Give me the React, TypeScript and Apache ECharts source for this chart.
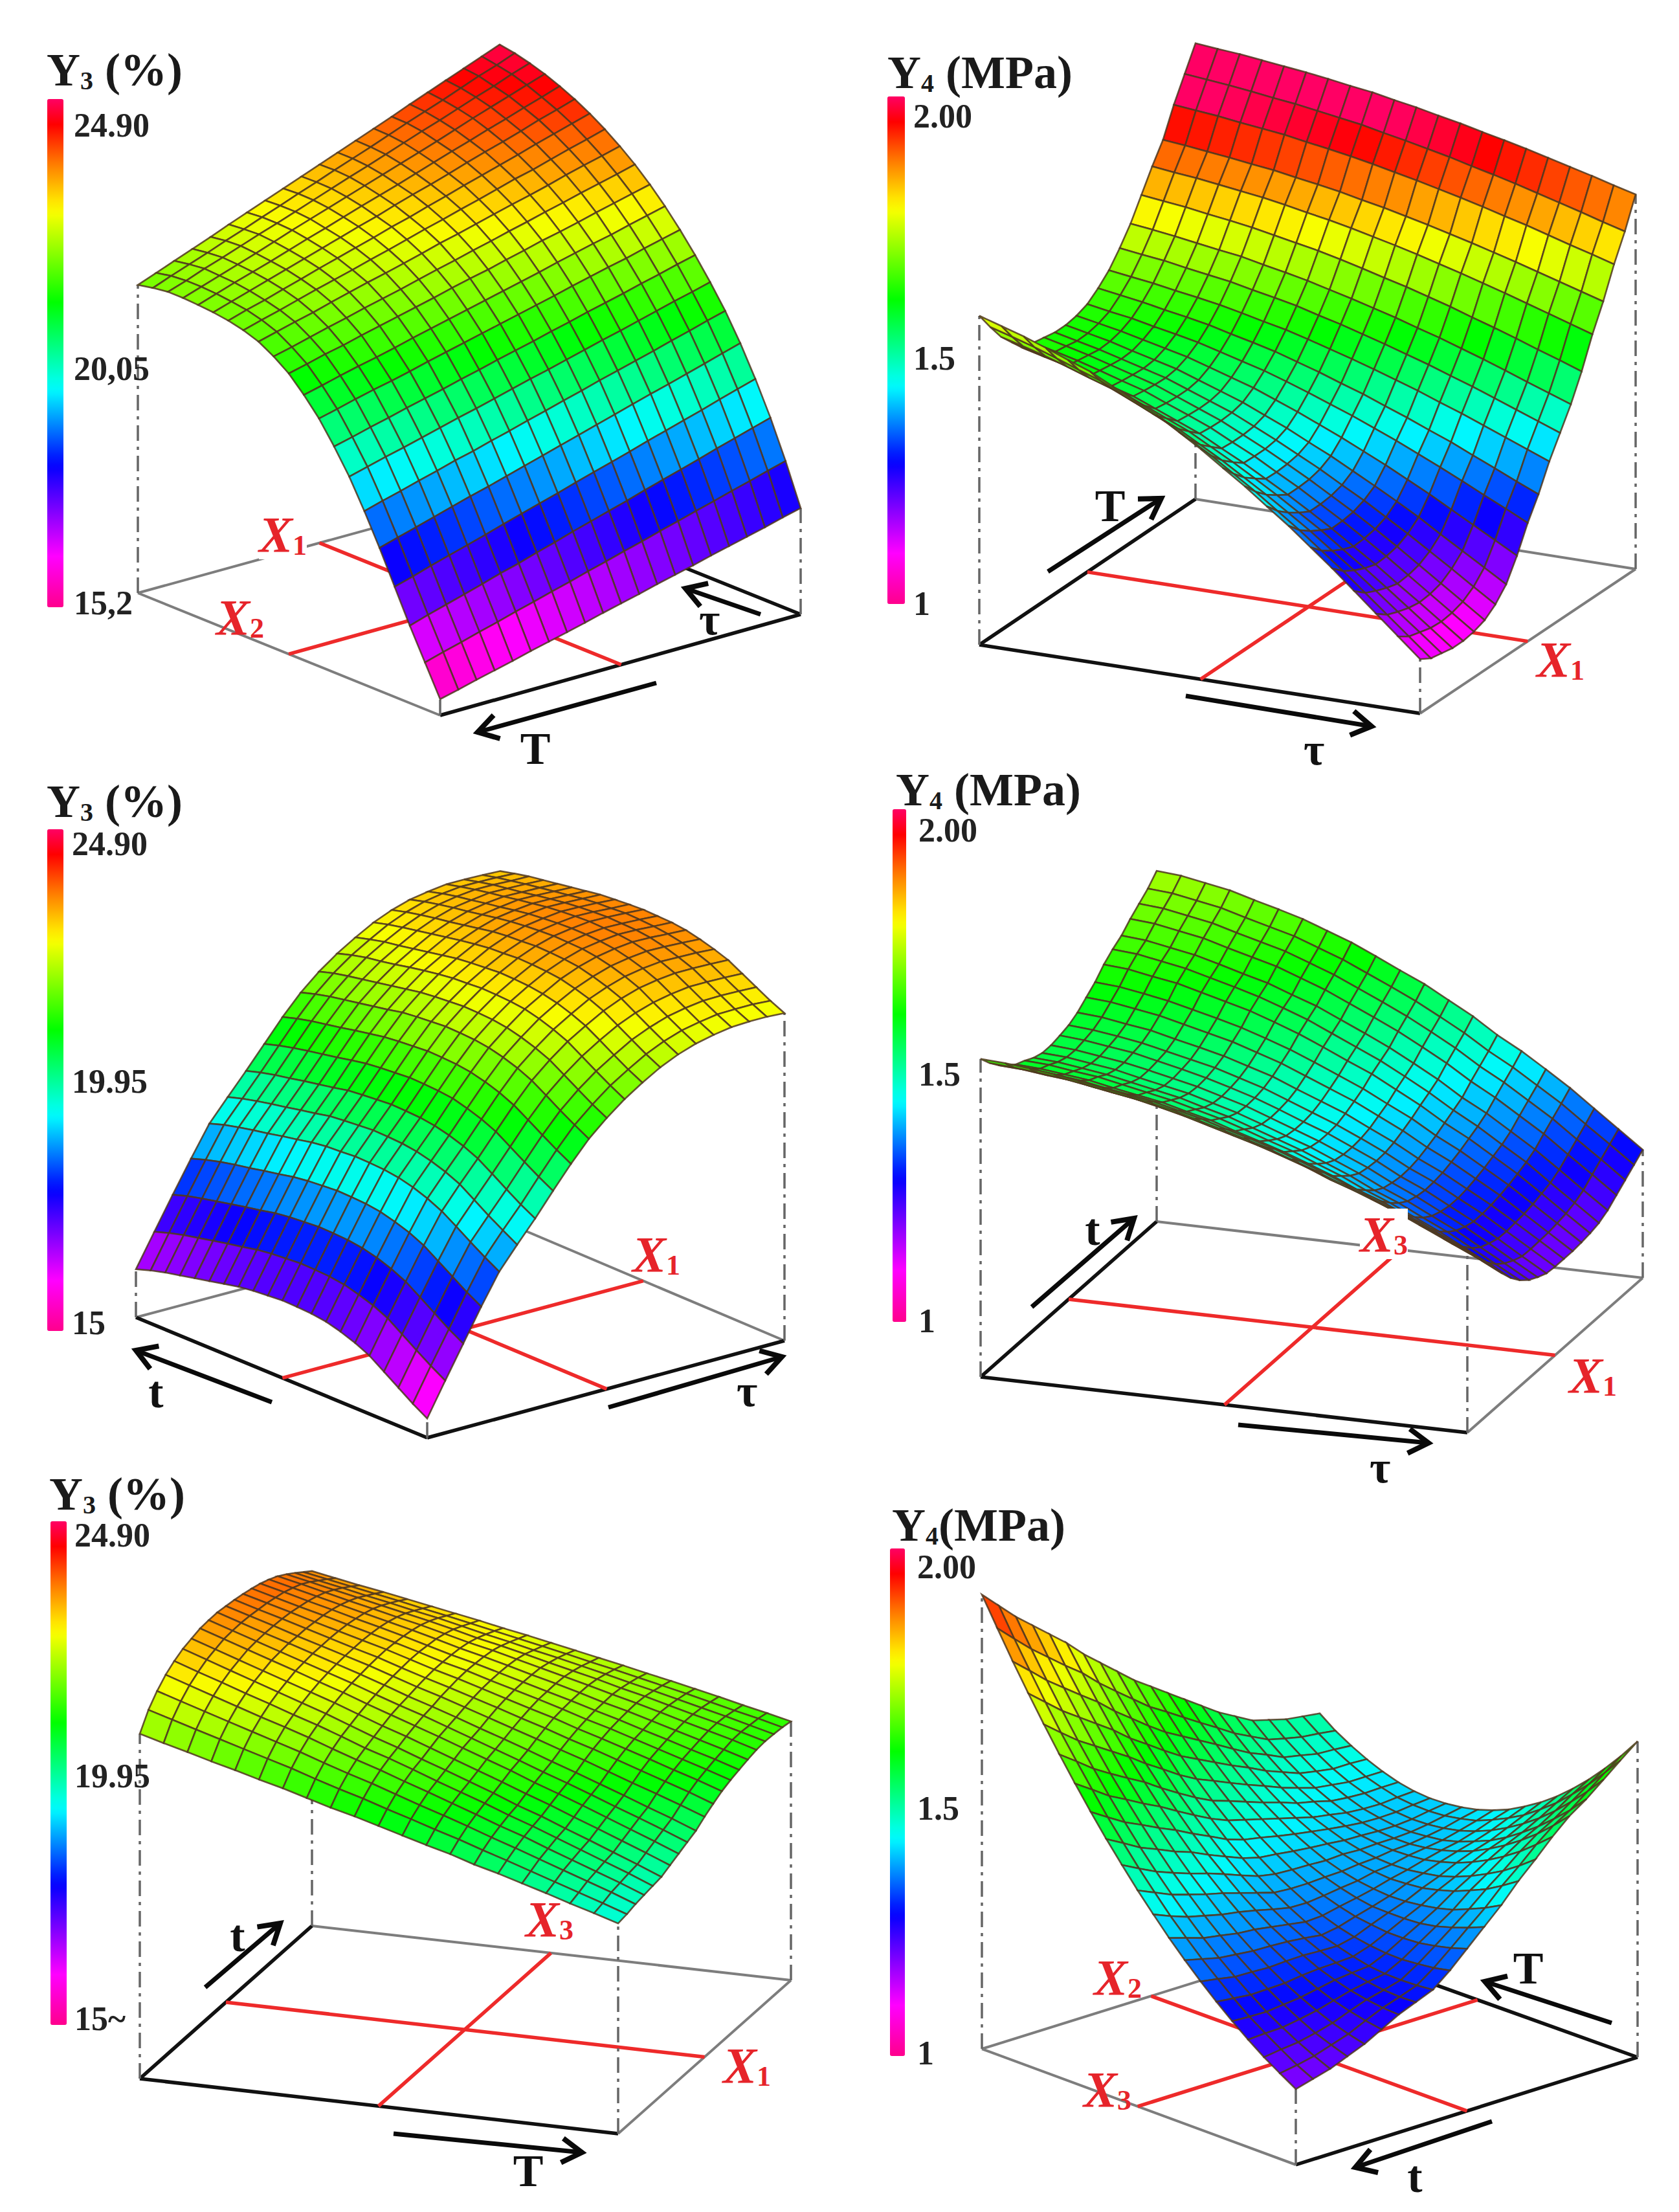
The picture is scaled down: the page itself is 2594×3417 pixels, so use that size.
import React, { useEffect, useRef } from "react";
import * as echarts from "echarts";

// Rows: position along the front-right floor edge. Columns: position along the front-left floor edge.
const y3TauT: number[][] = [
[15.40,16.10,16.80,17.55,18.30,19.00,19.65,20.20,20.70,21.10,21.45,21.70,21.90,22.02,22.10,22.15,22.18,22.20,22.20,22.15,22.08],
[15.50,16.22,16.93,17.67,18.42,19.12,19.76,20.30,20.80,21.20,21.55,21.80,22.01,22.14,22.23,22.28,22.32,22.34,22.34,22.31,22.24],
[15.61,16.33,17.05,17.80,18.54,19.23,19.87,20.41,20.91,21.31,21.66,21.91,22.12,22.25,22.34,22.41,22.46,22.48,22.50,22.46,22.40],
[15.71,16.45,17.17,17.92,18.66,19.35,19.97,20.51,21.01,21.41,21.75,22.02,22.22,22.37,22.47,22.54,22.59,22.62,22.64,22.61,22.56],
[15.81,16.56,17.29,18.04,18.78,19.46,20.08,20.62,21.10,21.50,21.86,22.12,22.34,22.49,22.59,22.67,22.72,22.76,22.79,22.77,22.72],
[15.92,16.68,17.42,18.16,18.90,19.58,20.19,20.72,21.20,21.60,21.96,22.23,22.45,22.60,22.72,22.80,22.86,22.91,22.94,22.92,22.89],
[16.02,16.79,17.53,18.29,19.01,19.68,20.30,20.82,21.31,21.71,22.06,22.33,22.56,22.71,22.84,22.93,23.00,23.06,23.08,23.08,23.05],
[16.12,16.91,17.66,18.41,19.13,19.80,20.40,20.93,21.41,21.81,22.16,22.43,22.66,22.83,22.96,23.06,23.13,23.20,23.23,23.23,23.21],
[16.22,17.02,17.78,18.53,19.25,19.91,20.51,21.03,21.51,21.91,22.26,22.54,22.77,22.94,23.08,23.19,23.27,23.34,23.38,23.39,23.37],
[16.33,17.14,17.91,18.65,19.37,20.03,20.62,21.14,21.61,22.01,22.37,22.65,22.88,23.06,23.21,23.31,23.41,23.48,23.53,23.54,23.53],
[16.43,17.25,18.03,18.78,19.49,20.14,20.73,21.24,21.71,22.11,22.47,22.75,23.00,23.18,23.32,23.45,23.54,23.62,23.68,23.70,23.69],
[16.53,17.37,18.15,18.90,19.61,20.26,20.83,21.34,21.81,22.21,22.56,22.86,23.10,23.29,23.45,23.58,23.67,23.76,23.82,23.85,23.85],
[16.64,17.48,18.27,19.02,19.73,20.37,20.94,21.45,21.91,22.31,22.67,22.96,23.21,23.41,23.57,23.70,23.81,23.90,23.97,24.00,24.01],
[16.74,17.60,18.40,19.14,19.85,20.49,21.05,21.55,22.01,22.41,22.77,23.07,23.32,23.52,23.70,23.83,23.95,24.04,24.12,24.16,24.17],
[16.84,17.71,18.52,19.27,19.97,20.60,21.16,21.66,22.12,22.52,22.88,23.17,23.43,23.64,23.82,23.97,24.09,24.18,24.27,24.32,24.33],
[16.95,17.83,18.64,19.39,20.09,20.71,21.26,21.76,22.22,22.62,22.97,23.28,23.53,23.76,23.94,24.10,24.22,24.33,24.41,24.47,24.50],
[17.05,17.94,18.76,19.51,20.20,20.82,21.37,21.86,22.32,22.72,23.07,23.38,23.64,23.86,24.06,24.22,24.36,24.48,24.56,24.62,24.66],
[17.15,18.06,18.89,19.63,20.32,20.94,21.48,21.97,22.41,22.81,23.18,23.49,23.76,23.98,24.19,24.35,24.49,24.62,24.71,24.78,24.82],
[17.25,18.17,19.01,19.76,20.44,21.05,21.59,22.07,22.52,22.92,23.28,23.59,23.87,24.10,24.31,24.49,24.63,24.76,24.85,24.94,24.98],
[17.36,18.29,19.13,19.88,20.56,21.17,21.69,22.18,22.62,23.02,23.38,23.69,23.97,24.21,24.43,24.61,24.76,24.90,25.01,25.08,25.14],
[17.46,18.40,19.25,20.00,20.68,21.28,21.80,22.28,22.72,23.12,23.48,23.80,24.08,24.33,24.55,24.74,24.90,25.04,25.15,25.24,25.30],
];

const y4TauT: number[][] = [
[1.100,1.145,1.190,1.235,1.280,1.322,1.364,1.402,1.441,1.476,1.512,1.544,1.576,1.602,1.627,1.653,1.672,1.692,1.711,1.727,1.743],
[1.085,1.128,1.171,1.214,1.257,1.297,1.337,1.374,1.411,1.445,1.479,1.509,1.540,1.565,1.589,1.614,1.632,1.651,1.669,1.685,1.700],
[1.080,1.121,1.161,1.202,1.242,1.280,1.318,1.353,1.387,1.419,1.451,1.480,1.509,1.532,1.556,1.579,1.596,1.614,1.631,1.646,1.660],
[1.075,1.114,1.153,1.192,1.230,1.266,1.303,1.336,1.369,1.400,1.430,1.458,1.486,1.508,1.530,1.552,1.569,1.586,1.602,1.616,1.630],
[1.075,1.112,1.149,1.185,1.222,1.256,1.290,1.322,1.353,1.382,1.411,1.437,1.464,1.485,1.506,1.527,1.542,1.558,1.574,1.587,1.600],
[1.080,1.116,1.152,1.188,1.224,1.258,1.291,1.322,1.353,1.381,1.410,1.435,1.461,1.482,1.502,1.523,1.538,1.554,1.569,1.582,1.595],
[1.090,1.125,1.160,1.195,1.230,1.263,1.295,1.325,1.355,1.383,1.410,1.435,1.460,1.480,1.500,1.520,1.535,1.550,1.565,1.578,1.590],
[1.110,1.143,1.177,1.210,1.243,1.274,1.305,1.333,1.362,1.388,1.414,1.438,1.462,1.481,1.500,1.519,1.533,1.547,1.561,1.573,1.585],
[1.140,1.171,1.202,1.233,1.265,1.294,1.322,1.349,1.376,1.400,1.425,1.447,1.469,1.487,1.505,1.523,1.536,1.549,1.563,1.574,1.585],
[1.190,1.218,1.246,1.274,1.302,1.328,1.354,1.378,1.402,1.424,1.446,1.466,1.486,1.502,1.518,1.534,1.546,1.558,1.570,1.580,1.590],
[1.250,1.275,1.299,1.324,1.348,1.371,1.394,1.415,1.436,1.455,1.474,1.492,1.509,1.523,1.537,1.551,1.562,1.572,1.583,1.591,1.600],
[1.300,1.322,1.345,1.367,1.390,1.410,1.431,1.450,1.470,1.487,1.505,1.521,1.537,1.550,1.562,1.575,1.585,1.594,1.604,1.612,1.620],
[1.360,1.380,1.400,1.420,1.440,1.458,1.477,1.494,1.511,1.527,1.542,1.557,1.571,1.582,1.594,1.605,1.614,1.622,1.631,1.638,1.645],
[1.410,1.429,1.448,1.467,1.486,1.503,1.521,1.537,1.553,1.568,1.583,1.596,1.610,1.621,1.631,1.642,1.650,1.658,1.667,1.673,1.680],
[1.460,1.478,1.496,1.515,1.533,1.550,1.567,1.582,1.598,1.612,1.626,1.639,1.652,1.663,1.673,1.684,1.691,1.699,1.707,1.714,1.720],
[1.520,1.538,1.555,1.573,1.590,1.606,1.623,1.638,1.653,1.666,1.680,1.693,1.705,1.715,1.725,1.735,1.743,1.750,1.758,1.764,1.770],
[1.590,1.606,1.622,1.638,1.654,1.669,1.684,1.698,1.712,1.725,1.737,1.749,1.760,1.769,1.779,1.788,1.795,1.802,1.809,1.814,1.820],
[1.650,1.665,1.680,1.695,1.710,1.724,1.738,1.751,1.764,1.776,1.788,1.798,1.809,1.818,1.826,1.835,1.841,1.848,1.854,1.860,1.865],
[1.720,1.735,1.749,1.764,1.779,1.792,1.806,1.819,1.831,1.843,1.854,1.865,1.875,1.884,1.892,1.901,1.907,1.913,1.920,1.925,1.930],
[1.780,1.794,1.809,1.823,1.837,1.851,1.864,1.876,1.889,1.900,1.911,1.921,1.932,1.940,1.948,1.956,1.962,1.969,1.975,1.980,1.985],
[1.850,1.863,1.877,1.890,1.903,1.916,1.928,1.939,1.951,1.961,1.972,1.981,1.991,1.998,2.006,2.013,2.019,2.025,2.031,2.035,2.040],
];

const y3TauTime: number[][] = [
[15.58,15.80,16.05,16.30,16.55,16.72,16.85,16.95,17.00,17.02,17.03,17.00,16.97,16.92,16.84,16.76,16.68,16.60,16.52,16.42,16.30],
[16.40,16.62,16.86,17.11,17.36,17.53,17.65,17.75,17.80,17.82,17.83,17.80,17.77,17.72,17.64,17.57,17.49,17.41,17.33,17.23,17.11],
[17.20,17.41,17.66,17.91,18.15,18.32,18.45,18.54,18.59,18.61,18.62,18.59,18.56,18.51,18.43,18.36,18.28,18.20,18.12,18.03,17.91],
[18.00,18.21,18.45,18.69,18.93,19.10,19.22,19.32,19.37,19.39,19.40,19.37,19.34,19.29,19.21,19.14,19.06,18.99,18.91,18.81,18.69],
[18.75,18.96,19.19,19.43,19.66,19.83,19.96,20.05,20.10,20.12,20.13,20.10,20.08,20.03,19.95,19.88,19.80,19.73,19.65,19.56,19.44],
[19.30,19.51,19.73,19.97,20.21,20.37,20.49,20.58,20.63,20.65,20.66,20.63,20.60,20.56,20.48,20.41,20.33,20.26,20.18,20.09,19.98],
[19.83,20.03,20.26,20.50,20.73,20.89,21.01,21.10,21.15,21.17,21.18,21.15,21.12,21.08,21.00,20.93,20.86,20.78,20.71,20.62,20.51],
[20.40,20.60,20.82,21.05,21.28,21.44,21.56,21.66,21.70,21.72,21.73,21.70,21.67,21.63,21.56,21.48,21.41,21.34,21.26,21.17,21.06],
[20.95,21.15,21.37,21.60,21.82,21.98,22.10,22.19,22.24,22.26,22.27,22.24,22.21,22.17,22.10,22.03,21.95,21.88,21.81,21.72,21.61],
[21.45,21.65,21.86,22.09,22.31,22.47,22.59,22.68,22.73,22.75,22.76,22.73,22.70,22.66,22.58,22.51,22.44,22.37,22.30,22.21,22.10],
[21.85,22.04,22.26,22.48,22.70,22.85,22.97,23.06,23.11,23.13,23.14,23.11,23.08,23.04,22.97,22.90,22.83,22.76,22.69,22.61,22.50],
[22.20,22.39,22.60,22.82,23.04,23.19,23.31,23.40,23.44,23.46,23.47,23.44,23.42,23.37,23.31,23.24,23.16,23.09,23.03,22.94,22.83],
[22.49,22.67,22.88,23.10,23.31,23.46,23.58,23.66,23.71,23.73,23.74,23.71,23.68,23.64,23.57,23.50,23.43,23.36,23.30,23.21,23.11],
[22.75,22.93,23.14,23.35,23.56,23.71,23.82,23.91,23.95,23.97,23.98,23.95,23.93,23.88,23.82,23.75,23.68,23.61,23.54,23.46,23.36],
[22.95,23.13,23.33,23.54,23.75,23.89,24.00,24.09,24.13,24.15,24.16,24.13,24.11,24.07,24.00,23.93,23.86,23.80,23.73,23.65,23.55],
[23.10,23.28,23.48,23.68,23.89,24.03,24.14,24.22,24.27,24.28,24.29,24.27,24.24,24.20,24.14,24.07,24.00,23.94,23.87,23.79,23.69],
[23.20,23.37,23.57,23.77,23.97,24.11,24.22,24.30,24.34,24.36,24.36,24.34,24.31,24.27,24.21,24.14,24.08,24.01,23.95,23.87,23.77],
[23.27,23.44,23.63,23.83,24.02,24.16,24.27,24.35,24.39,24.40,24.41,24.39,24.36,24.32,24.26,24.20,24.13,24.07,24.00,23.92,23.83],
[23.29,23.45,23.64,23.83,24.02,24.15,24.26,24.34,24.38,24.39,24.40,24.38,24.35,24.31,24.25,24.19,24.12,24.06,24.00,23.92,23.83],
[23.29,23.45,23.63,23.82,24.01,24.14,24.24,24.31,24.35,24.37,24.38,24.35,24.33,24.29,24.23,24.17,24.11,24.05,23.98,23.91,23.82],
[23.26,23.42,23.61,23.80,23.99,24.11,24.21,24.29,24.33,24.34,24.35,24.33,24.30,24.27,24.21,24.15,24.09,24.03,23.97,23.89,23.80],
];

const y4TauTime: number[][] = [
[1.376,1.398,1.420,1.443,1.462,1.482,1.498,1.518,1.534,1.551,1.565,1.579,1.593,1.604,1.615,1.623,1.632,1.640,1.646,1.651,1.654],
[1.350,1.372,1.395,1.417,1.437,1.456,1.473,1.493,1.510,1.526,1.540,1.554,1.568,1.580,1.591,1.599,1.608,1.616,1.622,1.627,1.630],
[1.325,1.348,1.371,1.393,1.413,1.433,1.450,1.470,1.487,1.505,1.519,1.533,1.547,1.559,1.570,1.579,1.587,1.596,1.601,1.607,1.610],
[1.300,1.324,1.347,1.371,1.391,1.412,1.430,1.450,1.468,1.486,1.501,1.515,1.530,1.542,1.554,1.563,1.571,1.580,1.586,1.592,1.595],
[1.270,1.295,1.320,1.344,1.366,1.388,1.406,1.428,1.447,1.465,1.481,1.496,1.512,1.524,1.537,1.546,1.555,1.565,1.571,1.577,1.580],
[1.245,1.271,1.297,1.323,1.346,1.369,1.389,1.412,1.431,1.451,1.467,1.484,1.500,1.513,1.526,1.536,1.546,1.556,1.562,1.569,1.572],
[1.225,1.252,1.279,1.306,1.329,1.353,1.373,1.397,1.417,1.437,1.454,1.471,1.488,1.501,1.515,1.525,1.535,1.545,1.552,1.559,1.562],
[1.210,1.238,1.265,1.293,1.317,1.341,1.362,1.386,1.407,1.428,1.445,1.463,1.480,1.494,1.508,1.518,1.528,1.539,1.546,1.553,1.556],
[1.200,1.228,1.257,1.285,1.310,1.335,1.357,1.382,1.403,1.424,1.442,1.460,1.478,1.492,1.506,1.517,1.528,1.538,1.545,1.552,1.556],
[1.192,1.221,1.251,1.280,1.306,1.332,1.354,1.380,1.402,1.424,1.442,1.461,1.479,1.494,1.508,1.520,1.531,1.542,1.549,1.556,1.560],
[1.190,1.220,1.250,1.280,1.306,1.333,1.355,1.381,1.404,1.426,1.445,1.464,1.483,1.498,1.513,1.524,1.535,1.546,1.554,1.561,1.565],
[1.190,1.221,1.252,1.282,1.309,1.336,1.359,1.386,1.409,1.433,1.452,1.471,1.491,1.506,1.521,1.533,1.544,1.556,1.563,1.571,1.575],
[1.190,1.222,1.254,1.286,1.314,1.342,1.366,1.394,1.418,1.442,1.462,1.482,1.502,1.518,1.534,1.546,1.558,1.570,1.578,1.586,1.590],
[1.192,1.225,1.258,1.291,1.320,1.349,1.374,1.403,1.427,1.452,1.473,1.494,1.514,1.531,1.547,1.560,1.572,1.584,1.593,1.601,1.605],
[1.195,1.229,1.264,1.298,1.328,1.358,1.384,1.414,1.440,1.466,1.487,1.509,1.530,1.548,1.565,1.578,1.591,1.604,1.612,1.621,1.625],
[1.200,1.235,1.270,1.306,1.336,1.367,1.394,1.424,1.451,1.477,1.499,1.521,1.543,1.561,1.578,1.592,1.605,1.618,1.627,1.636,1.640],
[1.210,1.245,1.281,1.316,1.347,1.378,1.404,1.435,1.462,1.488,1.511,1.533,1.555,1.572,1.590,1.603,1.617,1.630,1.639,1.648,1.652],
[1.225,1.261,1.296,1.332,1.363,1.394,1.421,1.452,1.479,1.505,1.528,1.550,1.572,1.590,1.608,1.621,1.634,1.648,1.657,1.666,1.670],
[1.240,1.276,1.311,1.347,1.378,1.409,1.436,1.467,1.494,1.520,1.543,1.565,1.587,1.605,1.623,1.636,1.649,1.663,1.672,1.681,1.685],
[1.255,1.291,1.326,1.362,1.393,1.424,1.451,1.482,1.509,1.535,1.558,1.580,1.602,1.620,1.638,1.651,1.664,1.678,1.687,1.696,1.700],
[1.270,1.306,1.342,1.378,1.410,1.441,1.468,1.500,1.527,1.554,1.576,1.599,1.621,1.639,1.657,1.671,1.684,1.698,1.707,1.716,1.720],
];

const y3TTime: number[][] = [
[19.64,19.79,19.93,20.08,20.22,20.36,20.48,20.63,20.75,20.88,21.01,21.14,21.25,21.38,21.51,21.62,21.74,21.85,21.97,22.08,22.20],
[19.70,19.87,20.03,20.19,20.35,20.51,20.66,20.82,20.96,21.11,21.25,21.40,21.53,21.67,21.82,21.95,22.08,22.21,22.34,22.47,22.60],
[19.78,19.97,20.14,20.31,20.48,20.65,20.81,20.98,21.14,21.29,21.45,21.61,21.75,21.90,22.06,22.20,22.34,22.48,22.62,22.76,22.90],
[19.84,20.04,20.22,20.40,20.58,20.77,20.93,21.11,21.28,21.45,21.61,21.78,21.93,22.09,22.26,22.41,22.55,22.70,22.85,23.00,23.15],
[19.90,20.11,20.30,20.49,20.68,20.87,21.04,21.23,21.40,21.57,21.75,21.92,22.07,22.25,22.42,22.57,22.73,22.88,23.04,23.19,23.35],
[19.96,20.17,20.37,20.57,20.76,20.96,21.13,21.33,21.51,21.69,21.86,22.04,22.20,22.38,22.56,22.72,22.88,23.04,23.20,23.36,23.52],
[20.08,20.29,20.49,20.69,20.88,21.08,21.26,21.45,21.63,21.81,21.99,22.17,22.33,22.51,22.69,22.85,23.01,23.17,23.33,23.49,23.65],
[20.20,20.41,20.61,20.81,21.01,21.20,21.38,21.58,21.76,21.94,22.12,22.29,22.46,22.63,22.81,22.97,23.14,23.30,23.46,23.62,23.78],
[20.32,20.53,20.73,20.92,21.12,21.31,21.49,21.68,21.86,22.04,22.22,22.40,22.56,22.73,22.91,23.07,23.23,23.39,23.55,23.71,23.87],
[20.44,20.65,20.84,21.04,21.23,21.42,21.60,21.79,21.97,22.14,22.32,22.49,22.65,22.83,23.00,23.16,23.32,23.48,23.63,23.79,23.95],
[20.62,20.82,21.01,21.19,21.38,21.57,21.74,21.92,22.09,22.26,22.43,22.60,22.75,22.92,23.09,23.24,23.39,23.54,23.70,23.85,24.00],
[20.78,20.98,21.16,21.34,21.52,21.70,21.86,22.04,22.20,22.37,22.53,22.69,22.84,23.00,23.17,23.31,23.46,23.61,23.76,23.90,24.05],
[20.93,21.12,21.29,21.47,21.64,21.81,21.97,22.15,22.30,22.46,22.62,22.78,22.92,23.08,23.24,23.38,23.52,23.66,23.81,23.95,24.09],
[21.05,21.23,21.40,21.57,21.74,21.91,22.06,22.23,22.39,22.54,22.69,22.85,22.98,23.14,23.29,23.43,23.57,23.71,23.84,23.98,24.12],
[21.15,21.33,21.49,21.66,21.82,21.99,22.14,22.30,22.45,22.60,22.75,22.90,23.03,23.18,23.33,23.47,23.60,23.74,23.87,24.01,24.14],
[21.25,21.42,21.58,21.74,21.90,22.06,22.20,22.36,22.51,22.65,22.80,22.94,23.07,23.22,23.36,23.49,23.62,23.75,23.88,24.01,24.14],
[21.34,21.51,21.66,21.81,21.97,22.12,22.26,22.41,22.55,22.69,22.83,22.97,23.09,23.23,23.37,23.49,23.62,23.74,23.87,24.00,24.12],
[21.40,21.56,21.71,21.85,22.00,22.15,22.28,22.43,22.56,22.69,22.83,22.96,23.08,23.22,23.35,23.47,23.59,23.71,23.83,23.95,24.07],
[21.43,21.58,21.73,21.87,22.01,22.15,22.28,22.42,22.55,22.68,22.80,22.93,23.05,23.18,23.31,23.42,23.54,23.65,23.77,23.88,24.00],
[21.45,21.60,21.73,21.87,22.01,22.14,22.27,22.40,22.52,22.65,22.77,22.89,23.01,23.13,23.25,23.36,23.48,23.59,23.70,23.81,23.92],
[21.45,21.59,21.72,21.86,21.99,22.12,22.24,22.37,22.49,22.61,22.73,22.85,22.96,23.08,23.19,23.30,23.41,23.52,23.62,23.73,23.84],
];

const y4TTime: number[][] = [
[1.190,1.211,1.233,1.258,1.285,1.314,1.345,1.378,1.413,1.451,1.490,1.532,1.575,1.621,1.669,1.719,1.771,1.825,1.881,1.940,2.000],
[1.200,1.217,1.238,1.260,1.283,1.310,1.339,1.369,1.402,1.436,1.474,1.513,1.555,1.598,1.645,1.693,1.742,1.795,1.850,1.906,1.965],
[1.210,1.225,1.242,1.261,1.282,1.306,1.332,1.360,1.390,1.423,1.458,1.495,1.534,1.576,1.620,1.666,1.714,1.765,1.818,1.873,1.930],
[1.225,1.237,1.250,1.267,1.286,1.307,1.331,1.356,1.384,1.414,1.447,1.481,1.519,1.559,1.601,1.644,1.691,1.740,1.791,1.844,1.900],
[1.240,1.249,1.260,1.274,1.290,1.308,1.329,1.352,1.377,1.405,1.436,1.468,1.503,1.541,1.581,1.623,1.668,1.715,1.764,1.815,1.870],
[1.260,1.266,1.274,1.284,1.297,1.313,1.331,1.351,1.374,1.399,1.427,1.457,1.490,1.525,1.563,1.603,1.645,1.690,1.738,1.788,1.840],
[1.280,1.282,1.287,1.294,1.304,1.316,1.332,1.349,1.368,1.391,1.416,1.444,1.473,1.506,1.542,1.579,1.619,1.661,1.707,1.755,1.805],
[1.295,1.294,1.296,1.301,1.308,1.317,1.330,1.345,1.362,1.382,1.405,1.430,1.458,1.489,1.522,1.557,1.596,1.637,1.680,1.726,1.775],
[1.310,1.307,1.306,1.307,1.311,1.319,1.329,1.340,1.356,1.374,1.394,1.417,1.443,1.471,1.503,1.536,1.572,1.612,1.653,1.698,1.745],
[1.340,1.333,1.329,1.326,1.327,1.331,1.337,1.346,1.358,1.373,1.391,1.410,1.433,1.459,1.488,1.518,1.552,1.589,1.628,1.670,1.715],
[1.375,1.364,1.356,1.350,1.348,1.348,1.352,1.357,1.366,1.377,1.391,1.408,1.429,1.452,1.478,1.506,1.537,1.571,1.608,1.648,1.690],
[1.410,1.396,1.384,1.374,1.368,1.366,1.366,1.367,1.373,1.382,1.393,1.407,1.424,1.444,1.468,1.493,1.521,1.553,1.588,1.625,1.665],
[1.445,1.427,1.412,1.398,1.389,1.383,1.379,1.378,1.381,1.386,1.394,1.405,1.420,1.437,1.458,1.480,1.506,1.535,1.568,1.602,1.640],
[1.485,1.463,1.443,1.428,1.414,1.404,1.396,1.393,1.391,1.394,1.398,1.407,1.417,1.431,1.448,1.469,1.492,1.519,1.547,1.580,1.615],
[1.520,1.494,1.471,1.452,1.435,1.421,1.410,1.404,1.399,1.398,1.400,1.405,1.413,1.425,1.438,1.456,1.477,1.501,1.527,1.557,1.590],
[1.557,1.528,1.501,1.478,1.458,1.441,1.427,1.417,1.409,1.406,1.405,1.407,1.412,1.420,1.432,1.448,1.465,1.487,1.512,1.539,1.570],
[1.590,1.557,1.527,1.501,1.478,1.458,1.441,1.428,1.418,1.411,1.407,1.407,1.410,1.416,1.425,1.438,1.454,1.473,1.495,1.521,1.550],
[1.615,1.579,1.548,1.519,1.494,1.471,1.452,1.438,1.425,1.416,1.412,1.409,1.410,1.415,1.422,1.434,1.449,1.466,1.488,1.512,1.540],
[1.645,1.607,1.573,1.541,1.513,1.489,1.468,1.450,1.436,1.425,1.418,1.414,1.413,1.416,1.421,1.432,1.444,1.460,1.480,1.504,1.530],
[1.675,1.635,1.598,1.565,1.534,1.508,1.484,1.465,1.449,1.435,1.427,1.421,1.419,1.420,1.424,1.433,1.444,1.460,1.478,1.500,1.525],
[1.704,1.661,1.622,1.586,1.554,1.525,1.500,1.479,1.460,1.446,1.435,1.428,1.424,1.423,1.426,1.433,1.444,1.458,1.475,1.495,1.520],
];

const y3Ticks = [["24.90", "20,05", "15,2"], ["24.90", "19.95", "15"], ["24.90", "19.95", "15~"]];
const y4Ticks = ["2.00", "1.5", "1"];

type Pt = [number, number];
const layout = [
  { table: y3TauT, title: "{y|Y}{s|3}{y| (%)}", tx: 72, ty: 108, min: 15.2, max: 25.4, z0: 15.03, k: [67.5, 67.5, 67.5, 67.5],
    F: [680, 1105] as Pt, R: [1237, 949] as Pt, B: [772, 762] as Pt, L: [213, 916] as Pt, black: ["FR", "RB"], gray: ["FL", "LB"],
    bar: [73, 153, 25, 785], ticks: y3Ticks[0], tickX: 114, tickY: [193, 569, 931],
    arrows: [[1014, 1055, 738, 1131], [1175, 949, 1059, 909]], names: [["T", 827, 1156], ["τ", 1096, 956]],
    xs: [["1", 437, 825, true], ["2", 371, 953, false]] },
  { table: y4TauT, title: "{y|Y}{s|4}{y| (MPa)}", tx: 1371, ty: 112, min: 1, max: 1.95, z0: 0.973, k: [660, 660, 660, 660],
    F: [2194, 1102] as Pt, R: [2527, 879] as Pt, B: [1847, 771] as Pt, L: [1513, 996] as Pt, black: ["LB", "FL"], gray: ["FR", "RB"],
    bar: [1371, 149, 27, 784], ticks: y4Ticks, tickX: 1411, tickY: [179, 553, 932],
    arrows: [[1619, 883, 1794, 770], [1832, 1075, 2119, 1122]], names: [["T", 1715, 781], ["τ", 2030, 1157]],
    xs: [["1", 2411, 1018, false]] },
  { table: y3TauTime, title: "{y|Y}{s|3}{y| (%)}", tx: 72, ty: 1238, min: 15, max: 25.8, z0: 15.1, k: [62, 62, 62, 62],
    F: [660, 2221] as Pt, R: [1212, 2071] as Pt, B: [773, 1885] as Pt, L: [210, 2035] as Pt, black: ["FL", "FR"], gray: ["LB", "RB"],
    bar: [73, 1281, 25, 775], ticks: y3Ticks[1], tickX: 111, tickY: [1303, 1670, 2043],
    arrows: [[420, 2166, 210, 2086], [940, 2174, 1208, 2096]], names: [["t", 241, 2150], ["τ", 1154, 2148]],
    xs: [["1", 1014, 1937, false]] },
  { table: y4TauTime, title: "{y|Y}{s|4}{y| (MPa)}", tx: 1384, ty: 1220, min: 1, max: 2, z0: 1.011, k: [764, 764, 764, 764],
    F: [2267, 2213] as Pt, R: [2538, 1974] as Pt, B: [1787, 1887] as Pt, L: [1515, 2127] as Pt, black: ["LB", "FL"], gray: ["FR", "RB"],
    bar: [1379, 1250, 21, 792], ticks: y4Ticks, tickX: 1419, tickY: [1282, 1659, 2040],
    arrows: [[1594, 2019, 1752, 1882], [1913, 2201, 2207, 2229]], names: [["t", 1688, 1899], ["τ", 2132, 2266]],
    xs: [["1", 2461, 2124, false], ["3", 2138, 1906, true]] },
  { table: y3TTime, title: "{y|Y}{s|3}{y| (%)}", tx: 76, ty: 2308, min: 15, max: 25.3, z0: 15, k: [70, 62, 62, 74],
    F: [955, 3296] as Pt, R: [1222, 3059] as Pt, B: [482, 2975] as Pt, L: [216, 3211] as Pt, black: ["LB", "FL"], gray: ["FR", "RB"],
    bar: [78, 2350, 25, 778], ticks: y3Ticks[2], tickX: 115, tickY: [2371, 2743, 3118],
    arrows: [[317, 3070, 433, 2971], [608, 3296, 899, 3325]], names: [["t", 367, 2990], ["T", 816, 3353]],
    xs: [["1", 1154, 3190, false], ["3", 849, 2964, false]] },
  { table: y4TTime, title: "{y|Y}{s|4}{y|(MPa)}", tx: 1378, ty: 2356, min: 1, max: 2.05, z0: 1.028, k: [722, 722, 722, 722],
    F: [2002, 3344] as Pt, R: [2530, 3178] as Pt, B: [2039, 3002] as Pt, L: [1517, 3165] as Pt, black: ["FR", "RB"], gray: ["LB", "FL"],
    bar: [1375, 2392, 23, 784], ticks: y4Ticks, tickX: 1417, tickY: [2420, 2793, 3171],
    arrows: [[2490, 3125, 2294, 3061], [2305, 3277, 2094, 3348]], names: [["T", 2361, 3040], ["t", 2186, 3362]],
    xs: [["2", 1727, 3054, false], ["3", 1711, 3227, false]] },
];

const SERIF = '"Liberation Serif", serif';
const stops: [number, number[]][] = [
  [0, [255, 0, 140]], [0.1, [255, 0, 255]], [0.28, [0, 0, 255]], [0.43, [0, 255, 255]], [0.6, [0, 255, 0]],
  [0.78, [255, 255, 0]], [0.87, [255, 128, 0]], [0.95, [255, 0, 0]], [1, [255, 0, 100]],
];
const palette: string[] = [];
for (let n = 0; n <= 40; n++) {
  const t = n / 40;
  let a = 0;
  while (a < stops.length - 2 && t > stops[a + 1][0]) a++;
  const f = (t - stops[a][0]) / (stops[a + 1][0] - stops[a][0]);
  const c = stops[a][1].map((v, m) => Math.round(v + (stops[a + 1][1][m] - v) * f));
  palette.push(`rgb(${c[0]},${c[1]},${c[2]})`);
}

function makeProjector(p: (typeof layout)[number]) {
  const [x0, y0] = p.F, [x1, y1] = p.R, [x2, y2] = p.B, [x3, y3] = p.L;
  const dx1 = x1 - x2, dx2 = x3 - x2, sx = x0 - x1 + x2 - x3;
  const dy1 = y1 - y2, dy2 = y3 - y2, sy = y0 - y1 + y2 - y3;
  const den = dx1 * dy2 - dx2 * dy1;
  const g = (sx * dy2 - dx2 * sy) / den, h = (dx1 * sy - sx * dy1) / den;
  const a = x1 - x0 + g * x1, b = x3 - x0 + h * x3, d = y1 - y0 + g * y1, e = y3 - y0 + h * y3;
  const floor = (s: number, w: number): Pt => {
    const q = g * s + h * w + 1;
    return [(a * s + b * w + x0) / q, (d * s + e * w + y0) / q];
  };
  const surface = (s: number, w: number, z: number): Pt => {
    const [fx, fy] = floor(s, w);
    const k = p.k[0] * (1 - s) * (1 - w) + p.k[1] * s * (1 - w) + p.k[2] * s * w + p.k[3] * (1 - s) * w;
    return [fx, fy - (z - p.z0) * k];
  };
  return { floor, surface };
}

function buildOption() {
  const series: any[] = [];
  const visualMap: any[] = [];
  const elements: any[] = [];
  layout.forEach((p, idx) => {
    const proj = makeProjector(p);
    const rows = p.table.length, cols = p.table[0].length;
    const cells: number[][] = [];
    for (let i = 0; i < rows - 1; i++) {
      for (let j = 0; j < cols - 1; j++) {
        const t = p.table;
        cells.push([i, j, (t[i][j] + t[i + 1][j] + t[i + 1][j + 1] + t[i][j + 1]) / 4]);
      }
    }
    const depth = (c: number[]) => proj.floor((c[0] + 0.5) / (rows - 1), (c[1] + 0.5) / (cols - 1))[1];
    cells.sort((m, n) => depth(m) - depth(n));
    series.push({
      type: "custom", coordinateSystem: "cartesian2d", clip: false, silent: true, progressive: 0,
      dimensions: ["row", "col", "value"], encode: { x: 0, y: 1 }, data: cells, z: 5,
      renderItem: (_: any, api: any) => {
        const i = api.value(0), j = api.value(1);
        const pts = [[i, j], [i + 1, j], [i + 1, j + 1], [i, j + 1]].map(([a, b]) =>
          api.coord(proj.surface(a / (rows - 1), b / (cols - 1), p.table[a][b])));
        return { type: "polygon", shape: { points: pts },
          style: { fill: api.visual("color"), stroke: "rgba(80,55,30,0.85)", lineWidth: 2.6 } };
      },
    });
    visualMap.push({
      type: "continuous", seriesIndex: idx, dimension: 2, min: p.min, max: p.max, calculable: false, hoverLink: false,
      left: p.bar[0], top: p.bar[1], itemWidth: p.bar[2], itemHeight: p.bar[3], padding: 0, text: undefined,
      inRange: { color: palette }, z: 6, textStyle: { fontSize: 1, color: "transparent" },
    });

    const corner: Record<string, Pt> = { F: p.F, R: p.R, B: p.B, L: p.L };
    const line = (a: Pt, b: Pt, stroke: string, lineWidth: number, z: number, extra: any = {}) =>
      elements.push({ type: "line", silent: true, z, shape: { x1: a[0], y1: a[1], x2: b[0], y2: b[1] }, style: { stroke, lineWidth, ...extra } });
    p.gray.forEach((e) => line(corner[e[0]], corner[e[1]], "#7d7d7d", 4, 1));
    p.black.forEach((e) => line(corner[e[0]], corner[e[1]], "#111", 5.5, 1));
    line(proj.floor(0.5, 0), proj.floor(0.5, 1), "#ee2a2a", 5.5, 1);
    line(proj.floor(0, 0.5), proj.floor(1, 0.5), "#ee2a2a", 5.5, 1);
    const last = rows - 1;
    ([[0, 0], [1, 0], [1, 1], [0, 1]] as number[][]).forEach(([s, w]) => {
      const top = proj.surface(s, w, p.table[s * last][w * last]);
      line(proj.floor(s, w), top, "#666", 3.5, 1, { lineDash: [24, 9, 5, 9] });
    });
    (p.arrows as number[][]).forEach(([x1, y1, x2, y2]) => {
      const ang = Math.atan2(y2 - y1, x2 - x1);
      line([x1, y1], [x2, y2], "#0a0a0a", 7, 10);
      const head = (da: number): Pt => [x2 - 36 * Math.cos(ang + da), y2 - 36 * Math.sin(ang + da)];
      elements.push({ type: "polyline", silent: true, z: 10, shape: { points: [head(0.55), [x2, y2], head(-0.55)] },
        style: { stroke: "#0a0a0a", lineWidth: 8, fill: "none" } });
    });
    (p.names as any[]).forEach(([text, x, y]) => elements.push({ type: "text", silent: true, z: 10, x, y,
      style: { text, fontFamily: SERIF, fontWeight: "bold", fontSize: 70, fill: "#111", align: "center", verticalAlign: "middle" } }));
    (p.xs as any[]).forEach(([sub, x, y, bg]) => elements.push({ type: "text", silent: true, z: 10, x, y,
      style: { text: `{x|X}{s|${sub}}`, align: "center", verticalAlign: "middle", backgroundColor: bg ? "#fff" : undefined,
        rich: { x: { fontFamily: SERIF, fontWeight: "bold", fontStyle: "italic", fontSize: 78, fill: "#e6242a", lineHeight: 78 },
          s: { fontFamily: SERIF, fontWeight: "bold", fontSize: 44, fill: "#e6242a", verticalAlign: "bottom", padding: [16, 0, 0, 0] } } } }));
    elements.push({ type: "text", silent: true, z: 10, x: p.tx, y: p.ty,
      style: { text: p.title, align: "left", verticalAlign: "middle",
        rich: { y: { fontFamily: SERIF, fontWeight: "bold", fontSize: 72, fill: "#1a1a1a", lineHeight: 72 },
          s: { fontFamily: SERIF, fontWeight: "bold", fontSize: 40, fill: "#1a1a1a", verticalAlign: "bottom", padding: [14, 0, 0, 0] } } } });
    (p.ticks as string[]).forEach((text, n) => elements.push({ type: "text", silent: true, z: 10, x: p.tickX, y: p.tickY[n],
      style: { text, fontFamily: SERIF, fontWeight: "bold", fontSize: 52, fill: "#222", align: "left", verticalAlign: "middle" } }));
  });
  return {
    animation: false, backgroundColor: "#fff",
    grid: { left: 0, right: 0, top: 0, bottom: 0 },
    xAxis: { type: "value", min: 0, max: 2594, show: false },
    yAxis: { type: "value", min: 0, max: 3417, inverse: true, show: false },
    visualMap, series, graphic: { elements },
  };
}

export default function App() {
  const ref = useRef<HTMLDivElement>(null);
  useEffect(() => {
    document.body.style.margin = "0";
    const chart = echarts.init(ref.current as HTMLDivElement, undefined, { renderer: "svg" });
    chart.setOption(buildOption() as any);
    return () => chart.dispose();
  }, []);
  return <div ref={ref} style={{ width: 2594, height: 3417 }} />;
}
